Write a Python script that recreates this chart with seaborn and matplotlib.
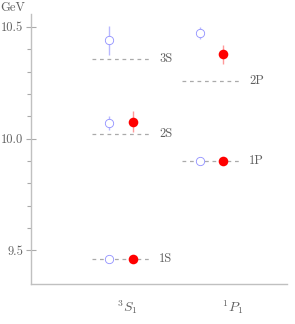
import numpy as np
import pandas as pd
import matplotlib
matplotlib.use("Agg")
import matplotlib.pyplot as plt
import seaborn as sns

# --- data ---
columns = [r"${}^3S_1$", r"${}^1P_1$"]

# dashed reference levels (GeV)
level_col = [0, 0, 0, 1, 1]
level_name = ["1S", "2S", "3S", "1P", "2P"]
level_mass = [9.460, 10.020, 10.358, 9.899, 10.258]

# open blue points (with errors)
open_col = [0, 0, 0, 1, 1]
open_mass = [9.460, 10.070, 10.440, 9.899, 10.472]
open_err = [0.0, 0.030, 0.066, 0.0, 0.028]

# filled red points (with errors)
red_col = [0, 0, 1, 1]
red_mass = [9.460, 10.075, 9.899, 10.377]
red_err = [0.0, 0.047, 0.0, 0.043]

sns.set_style("ticks")
plt.rcParams["font.family"] = "serif"
plt.rcParams["font.serif"] = ["cmr10", "DejaVu Serif"]
plt.rcParams["mathtext.fontset"] = "cm"
plt.rcParams["axes.unicode_minus"] = False

txt = "#606060"
grey = "#aaaaaa"
blue = "#9090ff"
red = "#ff0000"

fig = plt.figure(figsize=(2.95, 3.24), dpi=100)
ax = fig.add_axes([0.105, 0.123, 0.868, 0.834])

half = 0.32
shift = 0.13
for c, n, m in zip(level_col, level_name, level_mass):
    ax.plot([c - half, c + half], [m, m], ls=(0, (3, 3)), lw=0.9, color=grey, zorder=1)
    ax.text(c + half + 0.1, m, n, color=txt, fontsize=9, va="center", ha="left")

opn = pd.DataFrame({"x": np.array(open_col) - shift, "y": open_mass, "e": open_err})
fil = pd.DataFrame({"x": np.array(red_col) + shift, "y": red_mass, "e": red_err})

ax.errorbar(opn["x"], opn["y"], yerr=opn["e"], fmt="none", ecolor="#b8b8ff", elinewidth=1.0, zorder=2)
ax.errorbar(fil["x"], fil["y"], yerr=fil["e"], fmt="none", ecolor="#ff9a9a", elinewidth=1.0, zorder=2)
sns.scatterplot(data=opn, x="x", y="y", ax=ax, s=36, facecolor="white", edgecolor=blue,
                linewidth=0.6, zorder=3)
sns.scatterplot(data=fil, x="x", y="y", ax=ax, s=48, color=red, edgecolor=red, linewidth=0, zorder=4)

ax.set_xlim(-1.0, 1.84)
ax.set_ylim(9.348, 10.558)
ax.set_xticks([0.07, 1.24])
ax.set_xticklabels(columns, fontsize=10, color=txt)
ax.tick_params(axis="x", length=0, pad=10)

ax.set_yticks([9.5, 10.0, 10.5])
ax.set_yticklabels(["9.5", "10.0", "10.5"], fontsize=9, color=txt)
ax.set_yticks([9.6, 9.7, 9.8, 9.9, 10.1, 10.2, 10.3, 10.4], minor=True)
ax.tick_params(axis="y", which="major", direction="inout", length=7, width=0.8, color=grey, pad=2)
ax.tick_params(axis="y", which="minor", direction="out", length=3, width=0.8, color=grey)
ax.set_xlabel("")
ax.set_ylabel("")

sns.despine(ax=ax)
for s in ["left", "bottom"]:
    ax.spines[s].set_color("#c0c0c0")
    ax.spines[s].set_linewidth(1.0)

fig.text(0.0, 0.975, "GeV", fontsize=9, color=txt, ha="left", va="center")

fig.savefig("out.png", dpi=100)
